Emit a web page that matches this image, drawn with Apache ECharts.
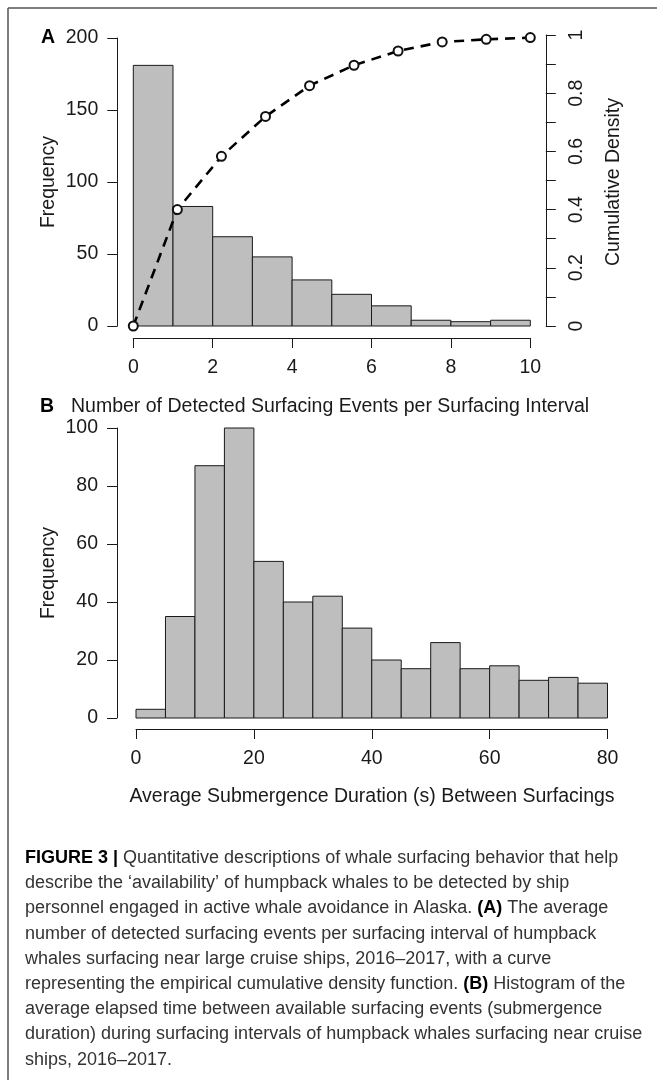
<!DOCTYPE html>
<html>
<head>
<meta charset="utf-8">
<script src="https://cdn.jsdelivr.net/npm/echarts@6/dist/echarts.min.js"></script>
<style>
  html, body { margin: 0; padding: 0; background: #fff; }
  #chart { width: 657px; height: 1080px; }
</style>
</head>
<body>
<div id="chart"></div>
<script>
// panel A: detected surfacing events per interval
var edgesA = [0, 1, 2, 3, 4, 5, 6, 7, 8, 9, 10];
var countsA = [181, 83, 62, 48, 32, 22, 14, 4, 3, 4];
var ecdfX = [0, 1.11, 2.22, 3.33, 4.44, 5.56, 6.67, 7.78, 8.89, 10];
var ecdfY = [0, 0.40, 0.583, 0.72, 0.826, 0.896, 0.945, 0.976, 0.985, 0.991];
// panel B: submergence duration (s)
var edgesB = [0, 5, 10, 15, 20, 25, 30, 35, 40, 45, 50, 55, 60, 65, 70, 75, 80];
var countsB = [3, 35, 87, 100, 54, 40, 42, 31, 20, 17, 26, 17, 18, 13, 14, 12];

var captionLines = [
  "{b|FIGURE 3 |} Quantitative descriptions of whale surfacing behavior that help",
  "describe the \u2018availability\u2019 of humpback whales to be detected by ship",
  "personnel engaged in active whale avoidance in Alaska. {b|(A)} The average",
  "number of detected surfacing events per surfacing interval of humpback",
  "whales surfacing near large cruise ships, 2016\u20132017, with a curve",
  "representing the empirical cumulative density function. {b|(B)} Histogram of the",
  "average elapsed time between available surfacing events (submergence",
  "duration) during surfacing intervals of humpback whales surfacing near cruise",
  "ships, 2016\u20132017."
];

function toBins(edges, counts) {
  var out = [];
  for (var i = 0; i < counts.length; i++) {
    out.push([edges[i], edges[i + 1], counts[i]]);
  }
  return out;
}

function renderHist(params, api) {
  var p0 = api.coord([api.value(0), api.value(2)]);
  var p1 = api.coord([api.value(1), 0]);
  return {
    type: "rect",
    shape: { x: p0[0], y: p0[1], width: p1[0] - p0[0], height: p1[1] - p0[1] },
    style: { fill: "#bebebe", stroke: "#1a1a1a", lineWidth: 1 }
  };
}

var font = "Liberation Sans";
var fs = 19.5;
var txt = "#1a1a1a";
var axisLine = { show: true, onZero: false, lineStyle: { color: "#1a1a1a", width: 1 } };
var axisTick = { show: true, inside: false, length: 10, lineStyle: { color: "#1a1a1a", width: 1 } };

var chart = echarts.init(document.getElementById("chart"));

var graphics = [
  // frame (top and left edges)
  { type: "line", shape: { x1: 8, y1: 8, x2: 657, y2: 8 }, style: { stroke: "#555", lineWidth: 1.5 } },
  { type: "line", shape: { x1: 8, y1: 8, x2: 8, y2: 1080 }, style: { stroke: "#555", lineWidth: 1.5 } },
  { type: "text", x: 41, y: 38, style: { text: "A", font: "bold " + fs + "px " + font, fill: "#000", verticalAlign: "middle" } },
  { type: "text", x: 40, y: 407, style: { text: "B", font: "bold " + fs + "px " + font, fill: "#000", verticalAlign: "middle" } },
  { type: "text", x: 71, y: 407, style: { text: "Number of Detected Surfacing Events per Surfacing Interval", font: fs + "px " + font, fill: txt, verticalAlign: "middle" } },
  { type: "text", x: 372, y: 797, style: { text: "Average Submergence Duration (s) Between Surfacings", font: fs + "px " + font, fill: txt, align: "center", verticalAlign: "middle" } },
  { type: "text", x: 49, y: 182, rotation: Math.PI / 2, style: { text: "Frequency", font: fs + "px " + font, fill: txt, align: "center", verticalAlign: "middle" } },
  { type: "text", x: 49, y: 573, rotation: Math.PI / 2, style: { text: "Frequency", font: fs + "px " + font, fill: txt, align: "center", verticalAlign: "middle" } },
  { type: "text", x: 614, y: 182, rotation: Math.PI / 2, style: { text: "Cumulative Density", font: fs + "px " + font, fill: txt, align: "center", verticalAlign: "middle" } }
];

captionLines.forEach(function (line, i) {
  graphics.push({
    type: "text",
    x: 25,
    y: 858 + i * 25.2,
    style: {
      text: line,
      font: "18px " + font,
      fill: "#333",
      verticalAlign: "middle",
      rich: {
        b: { font: "bold 18px " + font, fill: "#000", verticalAlign: "middle" }
      }
    }
  });
});

var option = {
  backgroundColor: "#fff",
  animation: false,
  textStyle: { fontFamily: font },
  grid: [
    { left: 133.3, top: 38, width: 397, height: 288 },
    { left: 133.3, top: 35, width: 397, height: 291 },
    { left: 136, top: 428, width: 471.5, height: 290 }
  ],
  xAxis: [
    {
      gridIndex: 0, type: "value", min: 0, max: 10, interval: 2, position: "bottom", offset: 12,
      axisLine: axisLine, axisTick: axisTick, splitLine: { show: false },
      axisLabel: { color: txt, fontSize: fs, margin: 20 }
    },
    { gridIndex: 1, type: "value", min: 0, max: 10, show: false },
    {
      gridIndex: 2, type: "value", min: 0, max: 80, interval: 20, position: "bottom", offset: 11,
      axisLine: axisLine, axisTick: axisTick, splitLine: { show: false },
      axisLabel: { color: txt, fontSize: fs, margin: 20 }
    }
  ],
  yAxis: [
    {
      gridIndex: 0, type: "value", min: 0, max: 200, interval: 50, position: "left", offset: 16,
      axisLine: axisLine, axisTick: axisTick, splitLine: { show: false },
      axisLabel: { color: txt, fontSize: fs, margin: 19 }
    },
    {
      gridIndex: 1, type: "value", min: 0, max: 1, interval: 0.2, position: "right", offset: 15.5,
      axisLine: axisLine, axisTick: axisTick, splitLine: { show: false },
      minorTick: { show: true, splitNumber: 2, length: 10, lineStyle: { color: "#1a1a1a", width: 1 } },
      axisLabel: { color: txt, fontSize: fs, margin: 21, rotate: 90 }
    },
    {
      gridIndex: 2, type: "value", min: 0, max: 100, interval: 20, position: "left", offset: 19,
      axisLine: axisLine, axisTick: axisTick, splitLine: { show: false },
      axisLabel: { color: txt, fontSize: fs, margin: 19 }
    }
  ],
  series: [
    {
      type: "custom", xAxisIndex: 0, yAxisIndex: 0,
      renderItem: renderHist, encode: { x: [0, 1], y: 2 },
      data: toBins(edgesA, countsA)
    },
    {
      type: "line", xAxisIndex: 1, yAxisIndex: 1,
      data: ecdfX.map(function (x, i) { return [x, ecdfY[i]]; }),
      symbol: "emptyCircle", symbolSize: 9, showSymbol: true, clip: false,
      lineStyle: { color: "#000", width: 2.6, type: [10, 7] },
      itemStyle: { color: "#111", borderWidth: 1 },
      z: 5
    },
    {
      type: "custom", xAxisIndex: 2, yAxisIndex: 2,
      renderItem: renderHist, encode: { x: [0, 1], y: 2 },
      data: toBins(edgesB, countsB)
    }
  ],
  graphic: graphics
};

chart.setOption(option);
</script>
</body>
</html>
